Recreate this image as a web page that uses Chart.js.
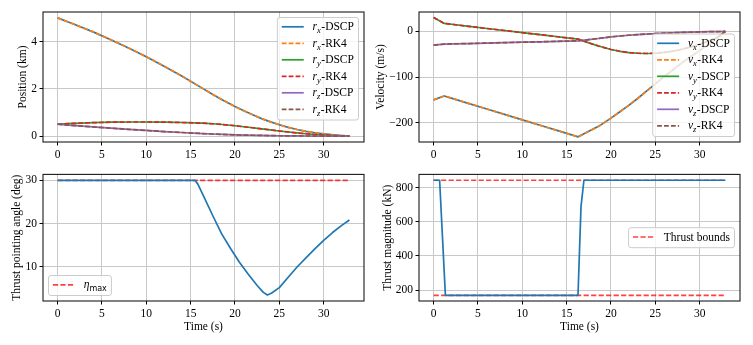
<!DOCTYPE html>
<html><head><meta charset="utf-8">
<script src="https://cdn.jsdelivr.net/npm/chart.js@4.4.1/dist/chart.umd.min.js"></script>
<style>
html,body{margin:0;padding:0;background:#fff;}
#wrap{position:relative;width:753px;height:345px;overflow:hidden;background:#fff;}
canvas{position:absolute;}
</style></head><body>
<div id="wrap">
<canvas id="cPos" width="376" height="165" style="left:0px;top:0px"></canvas>
<canvas id="cVel" width="387" height="165" style="left:366px;top:0px"></canvas>
<canvas id="cAng" width="376" height="180" style="left:0px;top:165px"></canvas>
<canvas id="cThr" width="387" height="180" style="left:366px;top:165px"></canvas>
</div>
<script>
// ---------------- data ----------------
const timePV = [0, 1.2, 2, 4, 6, 8, 10, 12, 14, 16.3, 17.5, 18.6, 20, 21, 22, 23, 24, 25, 26, 27, 28, 29, 30, 31, 32, 32.9];
const rx = [5.0, 4.83, 4.71, 4.41, 4.08, 3.73, 3.36, 2.96, 2.54, 2.03, 1.76, 1.53, 1.25, 1.07, 0.90, 0.74, 0.60, 0.48, 0.37, 0.28, 0.20, 0.14, 0.09, 0.05, 0.02, 0];
const ry = [0.5, 0.529, 0.542, 0.569, 0.587, 0.596, 0.597, 0.590, 0.575, 0.548, 0.522, 0.490, 0.438, 0.396, 0.352, 0.306, 0.260, 0.215, 0.172, 0.133, 0.098, 0.068, 0.043, 0.022, 0.007, 0];
const rz = [0.5, 0.466, 0.444, 0.390, 0.337, 0.286, 0.238, 0.193, 0.151, 0.108, 0.088, 0.072, 0.055, 0.044, 0.035, 0.027, 0.020, 0.014, 0.010, 0.006, 0.004, 0.002, 0.001, 0.0005, 0.0002, 0];
const vx = [-150, -141.5, -146.2, -158.1, -170, -181.8, -193.7, -205.6, -217.4, -231, -219, -208, -190, -176, -162, -147, -131, -115, -99, -84, -69, -55, -42, -28, -13, 0];
const vy = [30.6, 17.5, 15.7, 11.1, 6.5, 2.0, -2.6, -7.1, -11.7, -16.9, -25, -32, -39.5, -43.5, -46.3, -47.8, -48.3, -47.8, -46, -43, -39, -34, -28, -21, -13, 0];
const vz = [-30, -27.8, -27.4, -26.5, -25.5, -24.5, -23.6, -22.7, -21.7, -20.5, -18, -15.5, -12, -10, -8.3, -6.9, -5.7, -4.6, -3.7, -2.9, -2.2, -1.6, -1.1, -0.6, -0.25, 0];

const timeAng = [0, 15.5, 15.8, 16.5, 17.5, 18.5, 19.5, 20.5, 21.5, 22.5, 23.2, 23.65, 24.1, 25, 26, 27, 28, 29, 30, 31, 32, 32.9];
const angle = [30, 30, 29.2, 26.2, 21.8, 17.6, 14.2, 11.0, 8.2, 5.6, 4.0, 3.4, 3.8, 5.1, 7.5, 9.9, 12.0, 14.1, 16.1, 17.9, 19.5, 20.8];
const timeLimit = [0, 32.9];
const etaMax = [30, 30];

const timeThr = [0, 0.68, 1.33, 16.28, 16.62, 16.95, 32.9];
const thrust = [845, 845, 169, 169, 690, 845, 845];
const thrustUpper = [845, 845];
const thrustLower = [169, 169];

const xTicks = [0, 5, 10, 15, 20, 25, 30];
const posTicks = [0, 2, 4];
const velTicks = [-200, -100, 0];
const angTicks = [10, 20, 30];
const thrTicks = [200, 400, 600, 800];

const posLabels = ['r_x-DSCP', 'r_x-RK4', 'r_y-DSCP', 'r_y-RK4', 'r_z-DSCP', 'r_z-RK4'];
const velLabels = ['v_x-DSCP', 'v_x-RK4', 'v_y-DSCP', 'v_y-RK4', 'v_z-DSCP', 'v_z-RK4'];
const angLabel = 'η_max';
const thrLabel = 'Thrust bounds';

// ---------------- style ----------------
const FONT = "'Liberation Serif','Times New Roman',serif";
const COL = ['#1f77b4', '#ff7f0e', '#2ca02c', '#d62728', '#9467bd', '#8c564b'];
const DASH = [4.8, 2.1];
const RDASH = [5.2, 2.3];
const LIMRED = 'rgba(255,0,0,0.75)';
const LW = 1.7;

function pts(xs, ys) { return xs.map((x, i) => ({x: x, y: ys[i]})); }
function fmt(v) { return v < 0 ? '\u2212' + Math.abs(v) : String(v); }

function drawRich(ctx, label, x, y, draw) {
  const m = label.match(/^(\S)_([A-Za-z]+)(.*)$/);
  let w = 0;
  const seg = (text, font, dy) => {
    ctx.font = font;
    if (draw) ctx.fillText(text, x + w, y + dy);
    w += ctx.measureText(text).width;
  };
  if (m) {
    seg(m[1], 'italic 11.5px ' + FONT, 0);
    if (m[2].length > 1) seg(m[2], "8px 'DejaVu Sans'", 3.5);
    else seg(m[2], 'italic 8.5px ' + FONT, 3.5);
    if (m[3]) { w += 0.5; seg(m[3], '11.5px ' + FONT, 0); }
  } else {
    seg(label, '11.5px ' + FONT, 0);
  }
  return w;
}

const legendCfgs = {};

const mplPlugin = {
  id: 'mplFrame',
  afterDatasetsDraw(chart) {
    const ctx = chart.ctx, ca = chart.chartArea;
    ctx.save();
    ctx.strokeStyle = '#1a1a1a';
    ctx.lineWidth = 1.1;
    ctx.strokeRect(ca.left, ca.top, ca.right - ca.left, ca.bottom - ca.top);
    ctx.restore();
    const cfg = legendCfgs[chart.canvas.id];
    if (!cfg) return;
    ctx.save();
    ctx.textBaseline = 'middle';
    const padL = 4.4, handle = 22, gap = 8.8, padR = 4.6, padTop = 9.3, padBottom = 10.7, rowH = 16.5, m = 5.5;
    const widths = cfg.items.map(it => drawRich(ctx, it.label, 0, 0, false));
    const w = padL + handle + gap + Math.max.apply(null, widths) + padR;
    const h = padTop + padBottom + (cfg.items.length - 1) * rowH;
    let x, y;
    if (cfg.loc === 'upper right') { x = ca.right - m - w; y = ca.top + m; }
    else if (cfg.loc === 'lower right') { x = ca.right - m - w; y = ca.bottom - m - h; }
    else if (cfg.loc === 'lower left') { x = ca.left + m; y = ca.bottom - m - h; }
    else { x = ca.right - m - w; y = (ca.top + ca.bottom) / 2 - h / 2; }
    ctx.beginPath();
    if (ctx.roundRect) ctx.roundRect(x, y, w, h, 2.5); else ctx.rect(x, y, w, h);
    ctx.fillStyle = 'rgba(255,255,255,0.8)';
    ctx.fill();
    ctx.strokeStyle = '#cccccc';
    ctx.lineWidth = 1;
    ctx.stroke();
    cfg.items.forEach((it, i) => {
      const ry0 = y + padTop + i * rowH;
      ctx.beginPath();
      ctx.setLineDash(it.dash || []);
      ctx.strokeStyle = it.color;
      ctx.lineWidth = LW;
      ctx.moveTo(x + padL, ry0);
      ctx.lineTo(x + padL + handle, ry0);
      ctx.stroke();
      ctx.setLineDash([]);
      ctx.fillStyle = '#000';
      drawRich(ctx, it.label, x + padL + handle + gap, ry0 + 0.5, true);
    });
    ctx.restore();
  }
};

function makeChart(id, c) {
  return new Chart(document.getElementById(id), {
    type: 'line',
    data: {datasets: c.datasets},
    options: {
      responsive: false, animation: false, events: [],
      layout: {padding: {left: 0, right: c.padRight, top: c.padTop, bottom: 0}},
      elements: {point: {radius: 0}, line: {tension: 0, borderJoinStyle: 'round', borderWidth: LW}},
      plugins: {legend: {display: false}, tooltip: {enabled: false}},
      scales: {
        x: {
          type: 'linear', min: -1.645, max: 34.545,
          afterBuildTicks: s => { s.ticks = xTicks.map(v => ({value: v})); },
          afterFit: s => { s.height = c.xHeight; },
          ticks: {font: {family: FONT, size: 11.5}, color: '#000', maxRotation: 0, minRotation: 0, autoSkip: false, padding: 2.5, callback: v => fmt(v)},
          grid: {color: '#c8c8c8', lineWidth: 1, tickLength: 3.5, tickColor: '#000', tickWidth: 1},
          border: {display: false},
          title: c.xTitle ? {display: true, text: c.xTitle, font: {family: FONT, size: 11.5}, color: '#000', padding: {top: 0, bottom: c.xTitlePad}} : {display: false}
        },
        y: {
          type: 'linear', min: c.yMin, max: c.yMax,
          afterBuildTicks: s => { s.ticks = c.yTicks.map(v => ({value: v})); },
          afterFit: s => { s.width = c.yWidth; },
          ticks: {font: {family: FONT, size: 11.5}, color: '#000', padding: 2.5, callback: v => fmt(v)},
          grid: {color: '#c8c8c8', lineWidth: 1, tickLength: 3.5, tickColor: '#000', tickWidth: 1},
          border: {display: false},
          title: {display: true, text: c.yTitle, font: {family: FONT, size: 11.5}, color: '#000', padding: {top: c.yTitlePad, bottom: 0}}
        }
      }
    },
    plugins: [mplPlugin]
  });
}

function seriesSet(ys) {
  const ds = [];
  ys.forEach((arr, k) => {
    ds.push({data: pts(timePV, arr), borderColor: COL[2 * k], borderWidth: LW, order: 20 - 2 * k});
    ds.push({data: pts(timePV, arr), borderColor: COL[2 * k + 1], borderWidth: LW, borderDash: DASH, order: 19 - 2 * k});
  });
  return ds;
}
function legendItems(labels) {
  return labels.map((l, i) => ({label: l, color: COL[i], dash: i % 2 ? DASH : []}));
}

legendCfgs.cPos = {loc: 'upper right', items: legendItems(posLabels)};
legendCfgs.cVel = {loc: 'lower right', items: legendItems(velLabels)};
legendCfgs.cAng = {loc: 'lower left', items: [{label: angLabel, color: LIMRED, dash: RDASH}]};
legendCfgs.cThr = {loc: 'center right', items: [{label: thrLabel, color: LIMRED, dash: RDASH}]};

makeChart('cPos', {
  datasets: seriesSet([rx, ry, rz]),
  padRight: 12, padTop: 12, xHeight: 23, yWidth: 43,
  yMin: -0.25, yMax: 5.25, yTicks: posTicks, yTitle: 'Position (km)', yTitlePad: 16.3
});
makeChart('cVel', {
  datasets: seriesSet([vx, vy, vz]),
  padRight: 13, padTop: 12, xHeight: 23, yWidth: 53,
  yMin: -242.3, yMax: 42.6, yTicks: velTicks, yTitle: 'Velocity (m/s)', yTitlePad: 8.3
});
makeChart('cAng', {
  datasets: [
    {data: pts(timeAng, angle), borderColor: COL[0], borderWidth: LW, order: 1},
    {data: pts(timeLimit, etaMax), borderColor: LIMRED, borderWidth: LW, borderDash: RDASH, order: 2}
  ],
  padRight: 12, padTop: 5, xHeight: 44, yWidth: 43,
  yMin: 2.0, yMax: 31.4, yTicks: angTicks, yTitle: 'Thrust pointing angle (deg)', yTitlePad: 10,
  xTitle: 'Time (s)', xTitlePad: 11.4
});
makeChart('cThr', {
  datasets: [
    {data: pts(timeThr, thrust), borderColor: COL[0], borderWidth: LW, order: 1},
    {data: pts(timeLimit, thrustUpper), borderColor: LIMRED, borderWidth: LW, borderDash: RDASH, order: 2},
    {data: pts(timeLimit, thrustLower), borderColor: LIMRED, borderWidth: LW, borderDash: RDASH, order: 3}
  ],
  padRight: 13, padTop: 5, xHeight: 44, yWidth: 53,
  yMin: 135.5, yMax: 879.3, yTicks: thrTicks, yTitle: 'Thrust magnitude (kN)', yTitlePad: 15,
  xTitle: 'Time (s)', xTitlePad: 11.4
});
</script>
</body></html>
